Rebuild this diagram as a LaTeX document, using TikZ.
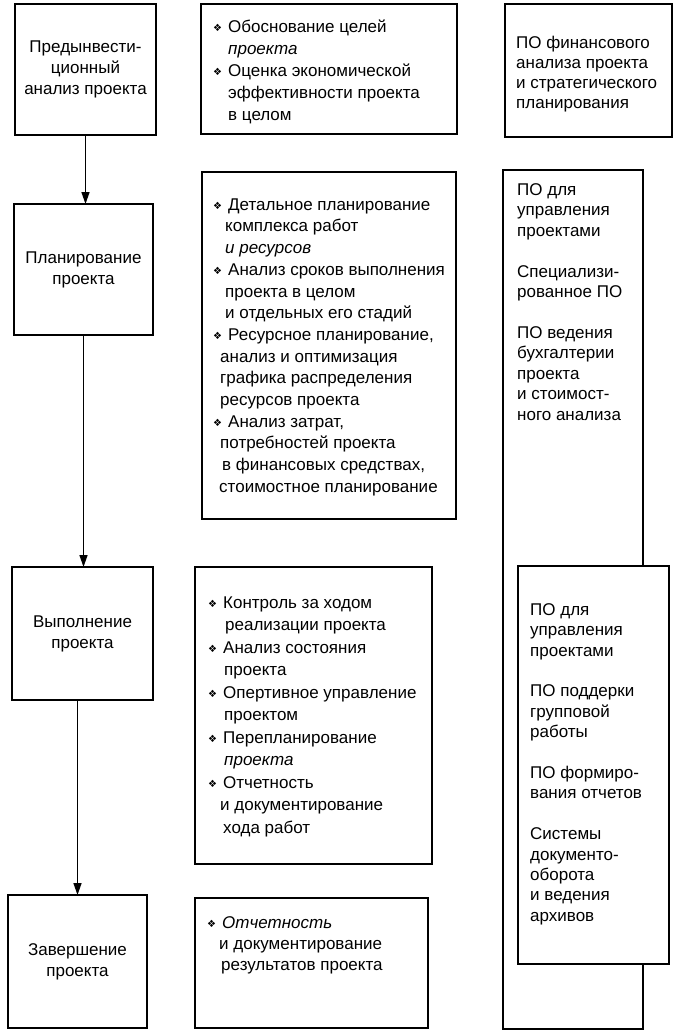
\documentclass[tikz,border=0pt]{standalone}
\usepackage{fontspec}
\setmainfont{Liberation Sans}
\newfontfamily\dejavu{DejaVu Sans}
\usetikzlibrary{arrows.meta}
\newcommand\fsz[1]{\fontsize{17}{#1}\selectfont}
\newcommand\tstrut{\rule{0pt}{14pt}}
\newcommand\bul{\makebox[15pt][l]{\raisebox{1pt}{\dejavu\fontsize{10}{10}\selectfont ❖}}}
\newcommand\ind[1]{\hspace*{#1pt}}
\tikzset{
  box/.style={draw, line width=1.8pt, inner sep=0pt, outer sep=0pt, anchor=north west, fill=white},
  ctext/.style={inner sep=0pt, align=center, font=\fsz{21}},
  ltext/.style={inner sep=0pt, anchor=north west, align=left},
  arr/.style={line width=1.5pt, -{Triangle[length=12pt,width=8pt]}}
}
\begin{document}
\begin{tikzpicture}[x=1pt,y=-1pt]
\useasboundingbox[fill=white] (0,0) rectangle (677,1036);
% left column
\node[box, minimum width=141pt, minimum height=131pt] (b1) at (15,4) {};
\node[box, minimum width=139pt, minimum height=131pt] (b2) at (14,204) {};
\node[box, minimum width=141pt, minimum height=133pt] (b3) at (12,567) {};
\node[box, minimum width=139pt, minimum height=133pt] (b4) at (8,895) {};
\node[ctext] (t1) at (b1.center) {Предынвести-\\ционный\\анализ проекта};
\node[ctext] (t2) at (b2.center) {Планирование\\проекта};
\node[ctext] (t3) at (b3.center) {Выполнение\\проекта};
\node[ctext] (t4) at (b4.center) {Завершение\\проекта};
\draw[arr] (b1.south) -- (b1.south |- b2.north);
\draw[arr] (b2.south) -- (b2.south |- b3.north);
\draw[arr] (b3.south -| b4.north) -- (b4.north);
% middle column
\node[box, minimum width=256pt, minimum height=130pt] (m1) at (201,4) {};
\node[box, minimum width=254pt, minimum height=347pt] (m2) at (202,172) {};
\node[box, minimum width=237pt, minimum height=297pt] (m3) at (195,567) {};
\node[box, minimum width=233pt, minimum height=130pt] (m4) at (195,898) {};
\node[ltext, font=\fsz{22}] (mt1) at (213,18) {\tstrut\bul Обоснование целей\\
\ind{15}\textit{проекта}\\
\bul Оценка экономической\\
\ind{15}эффективности проекта\\
\ind{15}в целом};
\node[ltext, font=\fsz{21.7}] (mt2) at (213,196) {\tstrut\bul Детальное планирование\\
\ind{12}комплекса работ\\
\ind{12}\textit{и ресурсов}\\
\bul Анализ сроков выполнения\\
\ind{12}проекта в целом\\
\ind{12}и отдельных его стадий\\
\bul Ресурсное планирование,\\
\ind{7}анализ и оптимизация\\
\ind{7}графика распределения\\
\ind{7}ресурсов проекта\\
\bul Анализ затрат,\\
\ind{7}потребностей проекта\\
\ind{9}в финансовых средствах,\\
\ind{6}стоимостное планирование};
\node[ltext, font=\fsz{22.5}] (mt3) at (208,594) {\tstrut\bul Контроль за ходом\\
\ind{17}реализации проекта\\
\bul Анализ состояния\\
\ind{16}проекта\\
\bul Опертивное управление\\
\ind{16}проектом\\
\bul Перепланирование\\
\ind{16}\textit{проекта}\\
\bul Отчетность\\
\ind{12}и документирование\\
\ind{15}хода работ};
\node[ltext, font=\fsz{21}] (mt4) at (207,914) {\tstrut\bul \textit{Отчетность}\\
\ind{12}и документирование\\
\ind{14}результатов проекта};
% right column
\node[box, minimum width=167pt, minimum height=133pt] (r1) at (505,4) {};
\node[box, minimum width=140pt, minimum height=859pt] (r2) at (503,170) {};
\node[box, minimum width=151pt, minimum height=398pt] (r3) at (518,566) {};
\node[ltext, font=\fsz{20}] (rt1) at (516,34) {\tstrut ПО финансового\\анализа проекта\\и стратегического\\планирования};
\node[ltext, font=\fsz{20.45}] (rt2) at (517,181) {\tstrut ПО для\\управления\\проектами\\[20.45pt]
Специализи-\\рованное ПО\\[20.45pt]
ПО ведения\\бухгалтерии\\проекта\\и стоимост-\\ного анализа};
\node[ltext, font=\fsz{20.4}] (rt3) at (530,601) {\tstrut ПО для\\управления\\проектами\\[20.4pt]
ПО поддерки\\групповой\\работы\\[20.4pt]
ПО формиро-\\вания отчетов\\[20.4pt]
Системы\\документо-\\оборота\\и ведения\\архивов};
\end{tikzpicture}
\end{document}
